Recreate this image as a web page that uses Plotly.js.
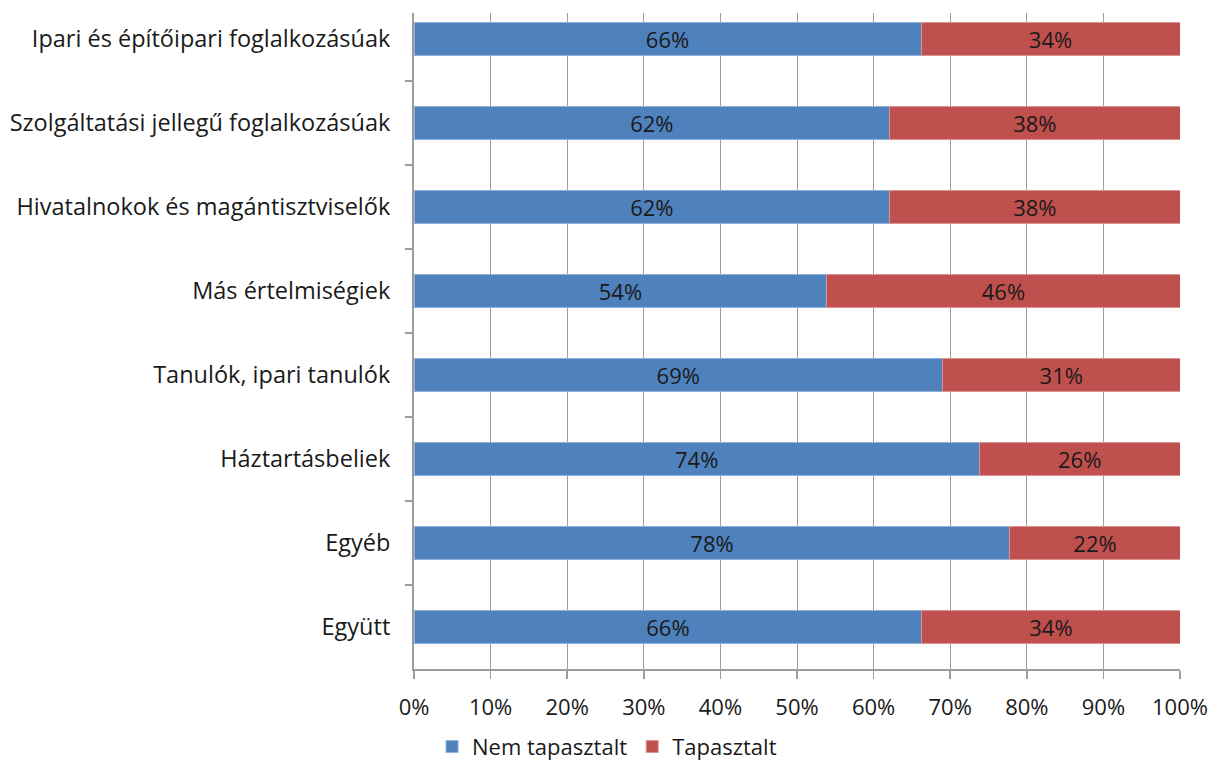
<!DOCTYPE html>
<html>
<head>
<meta charset="utf-8">
<script src="https://cdn.plot.ly/plotly-3.0.1.min.js"></script>
<style>html,body{margin:0;padding:0;background:#fff;}#chart{width:1212px;height:762px;}</style>
</head>
<body>
<div id="chart"></div>
<script>
const categories = [
  "Ipari és építőipari foglalkozásúak",
  "Szolgáltatási jellegű foglalkozásúak",
  "Hivatalnokok és magántisztviselők",
  "Más értelmiségiek",
  "Tanulók, ipari tanulók",
  "Háztartásbeliek",
  "Egyéb",
  "Együtt"
];
const nemTapasztalt = [0.662, 0.621, 0.621, 0.539, 0.690, 0.738, 0.778, 0.663];
const tapasztalt    = [0.338, 0.379, 0.379, 0.461, 0.310, 0.262, 0.222, 0.337];
const seriesNames = ["Nem tapasztalt", "Tapasztalt"];
const xTicks = [0, 0.1, 0.2, 0.3, 0.4, 0.5, 0.6, 0.7, 0.8, 0.9, 1.0];

const FONT = "'Open Sans', 'Noto Sans', sans-serif";
const common = {
  type: 'bar', orientation: 'h', y: categories, width: 0.4,
  texttemplate: '%{x:.0%}', textposition: 'inside', insidetextanchor: 'middle',
  textangle: 0, constraintext: 'none',
  textfont: {family: FONT, size: 22, color: '#1a1a1a'},
  hoverinfo: 'skip', cliponaxis: false
};
const traces = [
  Object.assign({}, common, {x: nemTapasztalt, name: seriesNames[0],
    marker: {color: '#4F81BD', line: {color: '#8DB0DA', width: 1}}}),
  Object.assign({}, common, {x: tapasztalt, name: seriesNames[1],
    marker: {color: '#C0504D', line: {color: '#DC9492', width: 1}}})
];
const layout = {
  width: 1212, height: 762,
  margin: {l: 414, r: 32, t: 13, b: 93, autoexpand: false},
  barmode: 'stack',
  paper_bgcolor: '#fff', plot_bgcolor: '#fff',
  font: {family: FONT, size: 22, color: '#1a1a1a'},
  showlegend: true,
  legend: {orientation: 'h', x: 0.252, xanchor: 'center', yref: 'container', y: 0.02, yanchor: 'middle',
    font: {family: FONT, size: 22, color: '#1a1a1a'}, itemwidth: 30, traceorder: 'normal'},
  xaxis: {
    range: [0, 1], tickvals: xTicks, tickformat: '.0%',
    showgrid: true, gridcolor: '#9c9c9c', gridwidth: 1,
    showline: true, linecolor: '#9c9c9c', linewidth: 1.5,
    ticks: 'outside', ticklen: 8, tickcolor: '#9c9c9c', tickwidth: 1.5,
    ticklabelstandoff: 10, zeroline: false, fixedrange: true
  },
  yaxis: {
    type: 'category', range: [7.5, -0.31], tickson: 'boundaries',
    tickfont: {family: FONT, size: 23.5, color: '#1a1a1a'},
    showgrid: false, showline: true, linecolor: '#9c9c9c', linewidth: 2,
    ticks: 'outside', ticklen: 7, tickcolor: '#9c9c9c', tickwidth: 1.5,
    ticklabelstandoff: 17, zeroline: false, fixedrange: true
  }
};
Plotly.newPlot('chart', traces, layout, {displayModeBar: false, staticPlot: true});
</script>
</body>
</html>
